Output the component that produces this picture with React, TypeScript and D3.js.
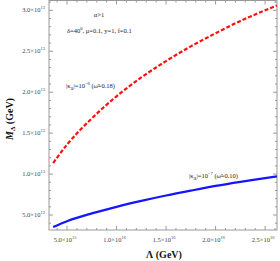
import React from "react";
import * as d3 from "d3";

const lambdaVals = [3.6e15, 5e15, 7.5e15, 1e16, 1.25e16, 1.5e16, 1.75e16, 2e16, 2.25e16, 2.5e16, 2.62e16];
const redM = [1.135e13, 1.36e13, 1.68e13, 1.95e13, 2.18e13, 2.38e13, 2.56e13, 2.72e13, 2.87e13, 3.0e13, 3.06e13];
const blueM = [3.54e12, 4.25e12, 5.2e12, 6.0e12, 6.72e12, 7.38e12, 7.98e12, 8.55e12, 9.05e12, 9.5e12, 9.72e12];
const xTicks = [5e15, 1e16, 1.5e16, 2e16, 2.5e16];
const xTickMant = ["5.0", "1.0", "1.5", "2.0", "2.5"];
const xTickExp = ["15", "16", "16", "16", "16"];
const yTicks = [5e12, 1e13, 1.5e13, 2e13, 2.5e13, 3e13];
const yTickMant = ["5.0", "1.0", "1.5", "2.0", "2.5", "3.0"];
const yTickExp = ["12", "13", "13", "13", "13", "13"];

const W = 280, H = 261;
const L = 49, R = 277, T = 0.5, B = 230;

export default function App() {
  const x = d3.scaleLinear().domain([3.18e15, 2.62e16]).range([L, R]);
  const y = d3.scaleLinear().domain([3.17e12, 3.12e13]).range([B, T]);
  const line = d3.line<[number, number]>().x(d => x(d[0])).y(d => y(d[1])).curve(d3.curveMonotoneX);
  const redPts = lambdaVals.map((l, i) => [l, redM[i]] as [number, number]);
  const bluePts = lambdaVals.map((l, i) => [l, blueM[i]] as [number, number]);
  const xMinor = d3.range(4e15, 2.62e16, 1e15).filter(v => !xTicks.some(t => Math.abs(t - v) < 1e12));
  const yMinor = d3.range(4e12, 3.12e13, 1e12).filter(v => !yTicks.some(t => Math.abs(t - v) < 1e9));
  const frame = "#999";
  const font = "'Liberation Serif', 'Times New Roman', serif";
  return (
    <svg width={W} height={H} style={{ position: "absolute", left: 0, top: 0, background: "#fff" }} fontFamily={font}>
      <rect x={L} y={T} width={R - L} height={B - T} fill="none" stroke={frame} strokeWidth={1} />
      {xTicks.map(t => (
        <g key={"xt" + t}>
          <line x1={x(t)} x2={x(t)} y1={B} y2={B - 4} stroke={frame} />
          <line x1={x(t)} x2={x(t)} y1={T} y2={T + 4} stroke={frame} />
        </g>
      ))}
      {xMinor.map(t => (
        <g key={"xm" + t}>
          <line x1={x(t)} x2={x(t)} y1={B} y2={B - 2} stroke={frame} />
          <line x1={x(t)} x2={x(t)} y1={T} y2={T + 2} stroke={frame} />
        </g>
      ))}
      {yTicks.map(t => (
        <g key={"yt" + t}>
          <line x1={L} x2={L + 4} y1={y(t)} y2={y(t)} stroke={frame} />
          <line x1={R} x2={R - 4} y1={y(t)} y2={y(t)} stroke={frame} />
        </g>
      ))}
      {yMinor.map(t => (
        <g key={"ym" + t}>
          <line x1={L} x2={L + 2} y1={y(t)} y2={y(t)} stroke={frame} />
          <line x1={R} x2={R - 2} y1={y(t)} y2={y(t)} stroke={frame} />
        </g>
      ))}
      {xTicks.map((t, i) => (
        <text key={"xl" + t} x={x(t) - 2} y={242} fontSize={6.5} textAnchor="middle" fill="#444">
          {xTickMant[i]}×10<tspan dy={-3} fontSize={4.5}>{xTickExp[i]}</tspan>
        </text>
      ))}
      {yTicks.map((t, i) => (
        <text key={"yl" + t} x={45} y={y(t) + 2} fontSize={6.5} textAnchor="end" fill="#444">
          {yTickMant[i]}×10<tspan dy={-3} fontSize={4.5}>{yTickExp[i]}</tspan>
        </text>
      ))}
      <path d={line(bluePts) || ""} fill="none" stroke="#1515ff" strokeWidth={2.2} />
      <path d={line(redPts) || ""} fill="none" stroke="#ff1010" strokeWidth={2.2} strokeDasharray="4,2" />
      <text x={99} y={17} fontSize={6.5} textAnchor="middle" fill="#222">α&gt;1</text>
      <text x={67} y={33} fontSize={6.5} fill="#222">δ=40<tspan dy={-3} fontSize={4.5}>0</tspan><tspan dy={3}>, μ=0.1, y=1, f=0.1</tspan></text>
      <text x={66} y={88} fontSize={6.5} fill="#222">|κ<tspan dy={1.5} fontSize={4.5}>Δ</tspan><tspan dy={-1.5}>|=10</tspan><tspan dy={-3} fontSize={4.5}>−6</tspan><tspan dy={3}> (ω̃=0.18)</tspan></text>
      <text x={189} y={178} fontSize={6.5} fill="#222">|κ<tspan dy={1.5} fontSize={4.5}>Δ</tspan><tspan dy={-1.5}>|=10</tspan><tspan dy={-3} fontSize={4.5}>−7</tspan><tspan dy={3}> (ω̃=0.10)</tspan></text>
      <text transform="translate(13,119) rotate(-90)" fontSize={10} fontWeight="bold" textAnchor="middle" fill="#111">
        <tspan fontStyle="italic">M</tspan><tspan dy={2} fontSize={7}>Δ</tspan><tspan dy={-2}> (GeV)</tspan>
      </text>
      <text x={164} y={258} fontSize={10} fontWeight="bold" textAnchor="middle" fill="#111">Λ (GeV)</text>
    </svg>
  );
}
